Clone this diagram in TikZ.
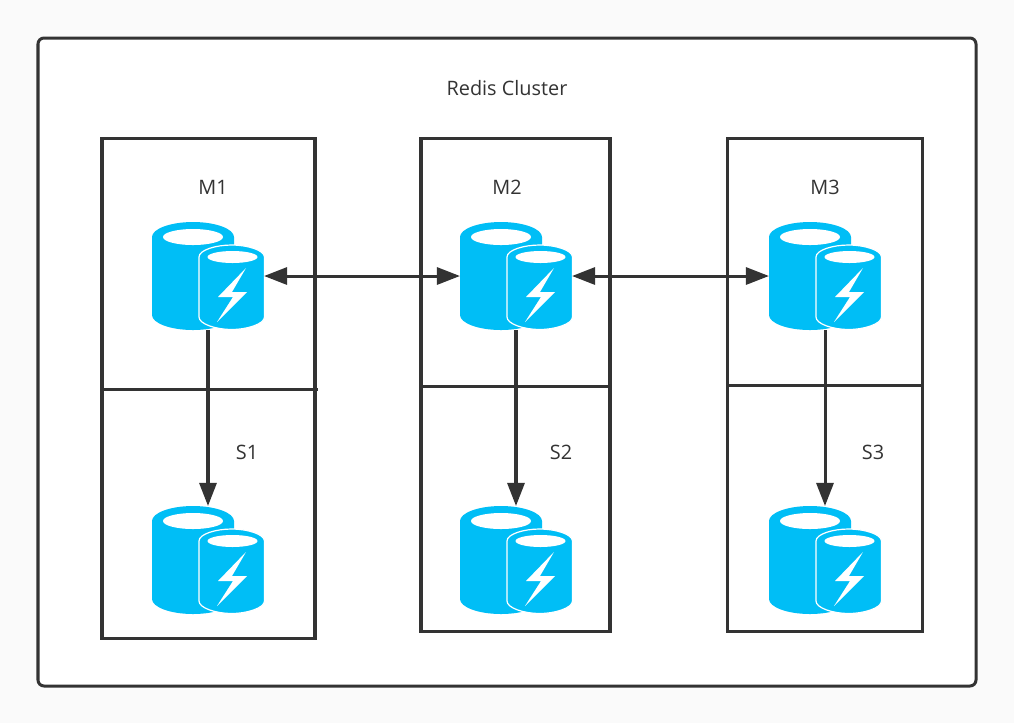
\documentclass[tikz,border=0pt]{standalone}
\usepackage{fontspec}
\setmainfont{Open Sans}
\usetikzlibrary{arrows.meta}
\definecolor{inkgray}{HTML}{333333}
\definecolor{pagegray}{HTML}{FAFAFA}
\definecolor{dbblue}{HTML}{00BEF6}
\tikzset{
  frame/.style={draw=inkgray,line width=0.03cm},
  link/.style={draw=inkgray,line width=0.03cm,-{Triangle[length=0.23cm,width=0.17cm]}},
  biglink/.style={link,{Triangle[length=0.23cm,width=0.17cm]}-{Triangle[length=0.23cm,width=0.17cm]}},
  iconbox/.style={minimum width=1.12cm,minimum height=1.08cm,inner sep=0pt,outer sep=0pt},
  label/.style={text=inkgray,inner sep=0pt,font=\fontsize{5.65pt}{6pt}\selectfont},
  dbicon/.pic={
    % big cylinder
    \fill[dbblue] (-56,-39) .. controls (-56,-47) and (-38,-54) .. (-15,-54) .. controls (8,-54) and (26,-47) .. (26,-39) -- (26,39) .. controls (26,47) and (8,54) .. (-15,54) .. controls (-38,54) and (-56,47) .. (-56,39) -- cycle;
    \fill[white] (-15,-39) circle [x radius=30,y radius=8];
    % small cylinder
    \draw[white,line width=0.012cm,fill=dbblue] (-9,-19) .. controls (-9,-26) and (8,-31) .. (23.5,-31) .. controls (39,-31) and (56.5,-26) .. (56.5,-19) -- (56.5,41) .. controls (56.5,48) and (39,53.5) .. (23.5,53.5) .. controls (8,53.5) and (-9,48) .. (-9,41) -- cycle;
    \fill[white] (24.5,-19) circle [x radius=25,y radius=6];
    % bolt
    \fill[white] (38,-8) -- (10,21) -- (25,21) -- (9,46) -- (39,16) -- (24,16) -- cycle;
  }
}
\begin{document}
\begin{tikzpicture}[x=0.01cm,y=-0.01cm]
  \useasboundingbox (0,0) rectangle (1014,723);
  \fill[pagegray] (0,0) rectangle (1014,723);
  \draw[frame,fill=white,rounded corners=0.06cm] (38,38) rectangle (976,686);
  \node[label] (title) at (507,88) {Redis Cluster};

  \draw[frame] (102,138) rectangle (315,638);
  \draw[frame] (102,389) -- (318,389);
  \draw[frame] (421,138) rectangle (610,631);
  \draw[frame] (421,386) -- (610,386);
  \draw[frame] (727,138) rectangle (922,631);
  \draw[frame] (727,385) -- (922,385);

  \node[label] (m1label) at (213,187) {M1};
  \node[label] (m2label) at (507,187) {M2};
  \node[label] (m3label) at (825,187) {M3};
  \node[label] (s1label) at (247,452) {S1};
  \node[label] (s2label) at (561,452) {S2};
  \node[label] (s3label) at (873,452) {S3};

  \pic at (208,276) {dbicon};
  \pic at (516,276) {dbicon};
  \pic at (825,276) {dbicon};
  \pic at (208,560) {dbicon};
  \pic at (516,560) {dbicon};
  \pic at (825,560) {dbicon};

  \node[iconbox] (m1) at (208,276) {};
  \node[iconbox] (m2) at (516,276) {};
  \node[iconbox] (m3) at (825,276) {};
  \node[iconbox] (s1) at (208,560) {};
  \node[iconbox] (s2) at (516,560) {};
  \node[iconbox] (s3) at (825,560) {};

  \draw[biglink] (m1) -- (m2);
  \draw[biglink] (m2) -- (m3);
  \draw[link] (m1) -- (s1);
  \draw[link] (m2) -- (s2);
  \draw[link] (m3) -- (s3);
\end{tikzpicture}
\end{document}
